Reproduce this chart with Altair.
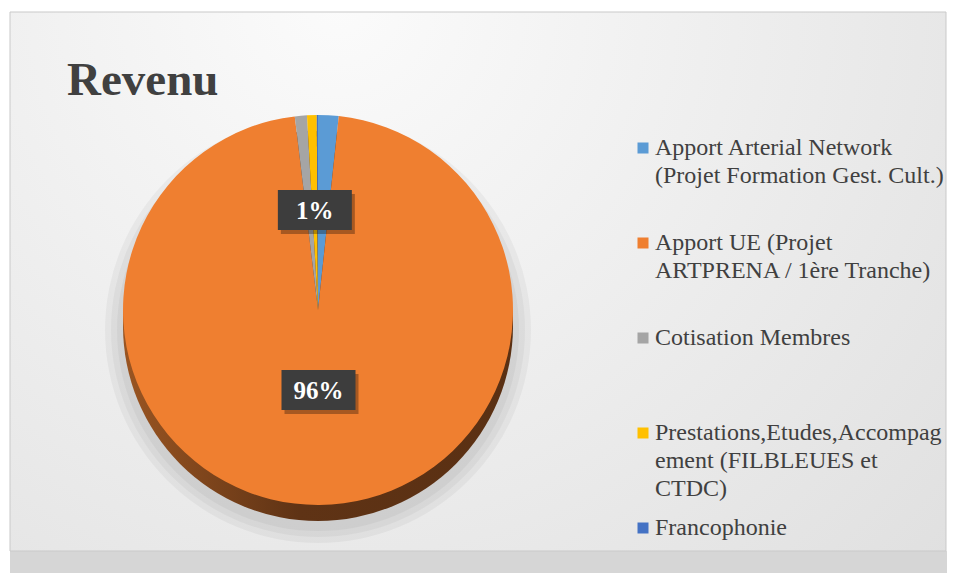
import altair as alt
import pandas as pd

# ---- data ----
categories = [
    "Apport Arterial Network (Projet Formation Gest. Cult.)",
    "Apport UE (Projet ARTPRENA / 1ère Tranche)",
    "Cotisation Membres",
    "Prestations,Etudes,Accompagement (FILBLEUES et CTDC)",
    "Francophonie",
]
shares = [1.7, 96.4, 1.0, 0.8, 0.1]
legend_lines = [
    "Apport Arterial Network\n(Projet Formation Gest. Cult.)",
    "Apport UE (Projet\nARTPRENA / 1ère Tranche)",
    "Cotisation Membres",
    "Prestations,Etudes,Accompag\nement (FILBLEUES et\nCTDC)",
    "Francophonie",
]
label_texts = ["", "96%", "", "1%", ""]
colors = ["#5B9BD5", "#EF7F30", "#A5A5A5", "#FFC000", "#4472C4"]

df = pd.DataFrame({
    "category": categories,
    "share": shares,
    "order": list(range(len(categories))),
    "legend": legend_lines,
    "label": label_texts,
})
one = pd.DataFrame({"k": [0]})

W, H = 939, 565
CX, CY, R, D = 310, 302, 195, 16
TXT = "#404040"
SERIF = "Liberation Serif, Times New Roman, serif"

color = alt.Color("category:N", scale=alt.Scale(domain=categories, range=colors), legend=None)

bg_grad = {
    "gradient": "radial", "x1": 0.35, "y1": 0.2, "r1": 0, "x2": 0.35, "y2": 0.2, "r2": 0.95,
    "stops": [{"offset": 0, "color": "#fbfbfb"}, {"offset": 1, "color": "#dedede"}],
}
side_grad = {
    "gradient": "linear", "x1": 0, "y1": 0, "x2": 1, "y2": 0,
    "stops": [{"offset": 0, "color": "#9a5522"}, {"offset": 0.45, "color": "#5f3315"},
              {"offset": 1, "color": "#5a3013"}],
}

base1 = alt.Chart(one)
page_shadow = base1.mark_rect(color="#d6d6d6").encode(
    x=alt.value(2), x2=alt.value(W), y=alt.value(543), y2=alt.value(H))
frame = base1.mark_rect(fill=bg_grad, stroke="#c9c9c9", strokeWidth=1).encode(
    x=alt.value(2), x2=alt.value(W - 1), y=alt.value(4), y2=alt.value(543))
title = base1.mark_text(text="Revenu", font=SERIF, fontSize=47, fontWeight="bold",
                        color=TXT, align="left", baseline="alphabetic").encode(
    x=alt.value(59), y=alt.value(87))

shadows = [
    base1.mark_arc(radius=R + s, theta=0, theta2=6.2832, color="#000000", opacity=0.04).encode(
        x=alt.value(CX), y=alt.value(CY + D + 4))
    for s in (6, 12, 18)
]
side_circle = base1.mark_arc(radius=R, theta=0, theta2=6.2832, fill=side_grad).encode(
    x=alt.value(CX), y=alt.value(CY + D))
side_rect = base1.mark_rect(fill=side_grad).encode(
    x=alt.value(CX - R), x2=alt.value(CX + R), y=alt.value(CY), y2=alt.value(CY + D))

slices = alt.Chart(df).mark_arc(radius=R).encode(
    theta=alt.Theta("share:Q", stack=True),
    color=color,
    order=alt.Order("order:Q"),
    x=alt.value(CX), y=alt.value(CY),
)

pie_base = alt.Chart(df).transform_window(
    cum="sum(share)", sort=[alt.SortField("order")], frame=[None, 0]
).transform_calculate(mid="datum.cum - datum.share / 2")

BOX = "M-1,-0.54L1,-0.54L1,0.54L-1,0.54Z"


def label_layers(cat, r):
    b = pie_base.transform_filter(alt.datum.category == cat).transform_calculate(
        px=f"{CX} + {r} * sin(2 * PI * datum.mid / 100)",
        py=f"{CY} - {r} * cos(2 * PI * datum.mid / 100)",
    )
    enc = dict(x=alt.X("px:Q", scale=None, axis=None), y=alt.Y("py:Q", scale=None, axis=None))
    shadow = b.mark_point(shape=BOX, size=74 * 74, filled=True, color="#000000", opacity=0.3,
                          strokeWidth=0, xOffset=3, yOffset=4).encode(**enc)
    box = b.mark_point(shape=BOX, size=74 * 74, filled=True, color="#3d3d3d", opacity=1,
                       strokeWidth=0).encode(**enc)
    txt = b.mark_text(font=SERIF, fontSize=25, fontWeight="bold", color="white",
                      baseline="middle", dy=1).encode(text="label:N", **enc)
    return [shadow, box, txt]


labels = label_layers(categories[1], 80) + label_layers(categories[3], 100)

ly = alt.Y("order:O", scale=alt.Scale(type="point", range=[147, 527], padding=0), axis=None)
leg_sq = alt.Chart(df).mark_square(size=121, opacity=1, yOffset=-7).encode(
    x=alt.value(635), y=ly, color=color)
leg_txt = alt.Chart(df).mark_text(align="left", baseline="alphabetic", font=SERIF,
                                  fontSize=24, lineBreak="\n", lineHeight=28, color=TXT).encode(
    x=alt.value(647), y=ly, text="legend:N")

chart = alt.layer(
    page_shadow, frame, title, *shadows, side_circle, side_rect, slices, *labels, leg_sq, leg_txt
).resolve_scale(theta="independent", x="independent", y="independent").properties(
    width=W, height=H, padding=0, autosize="none", background="white"
).configure_view(stroke=None)

chart.save("out.html", embed_options={"renderer": "svg", "actions": False})
